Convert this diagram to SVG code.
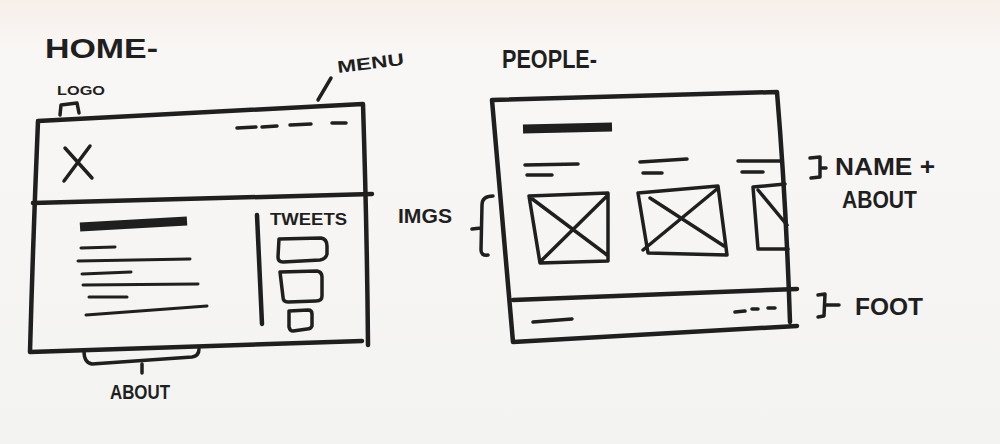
<svg xmlns="http://www.w3.org/2000/svg" width="1000" height="444" viewBox="0 0 1000 444">
  <defs>
    <linearGradient id="paper" x1="0" y1="0" x2="0" y2="1">
      <stop offset="0" stop-color="#f7efea"/>
      <stop offset="0.12" stop-color="#f9f7f5"/>
      <stop offset="1" stop-color="#f3f3f1"/>
    </linearGradient>
    <style>
      .ink { fill: none; stroke: #1f1f1f; stroke-linecap: round; stroke-linejoin: round; }
      .frame { stroke-width: 4.5; }
      .line { stroke-width: 3.5; }
      .thin { stroke-width: 3; }
      .bar { stroke-width: 9; stroke-linecap: butt; }
      .label { font-family: "Liberation Sans", "DejaVu Sans", sans-serif; font-weight: bold; fill: #1f1f1f; }
    </style>
  </defs>

  <rect width="1000" height="444" fill="url(#paper)"/>

  <!-- Home page wireframe -->
  <g id="home">
    <text class="label" x="45" y="58" font-size="28" textLength="113" lengthAdjust="spacingAndGlyphs">HOME-</text>
    <g class="ink">
      <path class="frame" d="M38,121 L363,104 Q367,230 368,345 M30,352 L362,341 M38,121 Q33,240 30,352"/>
      <path class="frame" d="M33,203 L372,194"/>
    </g>
    <g id="home-logo" class="ink">
      <path class="line" d="M64,181 L90,146 M65,148 L92,178"/>
    </g>
    <g id="home-menu" class="ink">
      <path class="line" d="M237,128 L256,127 M262,127 L277,126 M290,125 L311,124 M332,123 L346,123"/>
    </g>
    <g id="home-about" class="ink">
      <path class="bar" d="M80,227 L187,221"/>
      <path class="thin" d="M81,248 L115,247 M78,261 L190,259 M82,274 L131,272 M83,285 L198,284 M89,297 L127,297 M86,315 L207,306"/>
    </g>
    <g id="home-tweets">
      <path class="ink frame" d="M257,215 L262,324"/>
      <text class="label" x="270" y="225" font-size="16" textLength="77" lengthAdjust="spacingAndGlyphs">TWEETS</text>
      <g class="ink line">
        <path d="M279,239 L321,238 Q327,239 327,246 L327,254 Q326,259 320,260 L283,262 Q278,262 278,257 Z"/>
        <path d="M280,272 L317,271 Q322,272 322,277 L322,296 Q322,301 316,301 L288,302 Q283,302 283,297 Z"/>
        <path d="M289,311 L308,310 Q312,310 312,314 L312,326 Q311,329 307,329 L293,331 Q290,331 289,327 Z"/>
      </g>
    </g>
    <text id="home-logo-label" class="label" x="57" y="95" font-size="13" textLength="48" lengthAdjust="spacingAndGlyphs">LOGO</text>
    <text id="home-menu-label" class="label" x="338" y="73" font-size="17" textLength="67" lengthAdjust="spacingAndGlyphs" transform="rotate(-7 338 73)">MENU</text>
    <text id="home-about-label" class="label" x="110" y="399" font-size="21" textLength="60" lengthAdjust="spacingAndGlyphs">ABOUT</text>
  </g>

  <!-- People page wireframe -->
  <g id="people">
    <text class="label" x="502" y="68" font-size="26" textLength="95" lengthAdjust="spacingAndGlyphs">PEOPLE-</text>
    <g class="ink">
      <path class="frame" d="M492,100 L777,92 Q786,200 790,322 M492,100 L513,342 L797,326"/>
      <path class="frame" d="M513,300 L797,289"/>
    </g>
    <g id="people-heading" class="ink">
      <path class="bar" d="M523,129 L612,127"/>
    </g>
    <g id="people-names" class="ink line">
      <path d="M525,165 L578,164 M527,175 L552,175"/>
      <path d="M640,162 L687,159 M643,173 L662,173"/>
      <path d="M738,161 L782,161 M742,172 L763,172"/>
    </g>
    <g id="people-images" class="ink line">
      <path d="M529,196 L608,193 L608,261 L540,263 Z M531,198 L607,255 M607,196 L542,260"/>
      <path d="M638,193 L718,186 L727,255 L648,253 Z M650,198 L724,246 M717,189 L643,250"/>
      <path d="M785,184 L753,187 L758,249 L788,249 M758,190 L787,225"/>
    </g>
    <g id="people-foot" class="ink line">
      <path d="M533,322 L572,319"/>
      <path d="M735,312 L745,311 M752,309 L758,309 M768,308 L775,308"/>
    </g>
    <text id="people-imgs-label" class="label" x="398" y="223" font-size="20" textLength="54" lengthAdjust="spacingAndGlyphs">IMGS</text>
    <text id="people-name-label" class="label" x="835" y="175" font-size="23" textLength="100" lengthAdjust="spacingAndGlyphs">NAME +</text>
    <text id="people-about-label" class="label" x="842" y="208" font-size="23" textLength="75" lengthAdjust="spacingAndGlyphs">ABOUT</text>
    <text id="people-foot-label" class="label" x="855" y="315" font-size="23" textLength="68" lengthAdjust="spacingAndGlyphs">FOOT</text>
  </g>

  <!-- Annotation pointers and brackets -->
  <g id="connectors" class="ink line">
    <path d="M60,115 L61,105 L77,103 L79,113"/>
    <path d="M318,100 L331,78"/>
    <path d="M84,351 Q84,363 92,364 L192,357 Q199,356 199,349 M142,364 L142,373"/>
    <path d="M493,196 Q482,196 482,205 L481,250 Q481,256 488,255 M481,228 L472,229"/>
    <path d="M810,158 L820,157 L820,177 L811,178 M820,168 L826,168"/>
    <path d="M818,295 L825,294 L824,316 L818,317 M825,305 L839,305"/>
  </g>
</svg>
